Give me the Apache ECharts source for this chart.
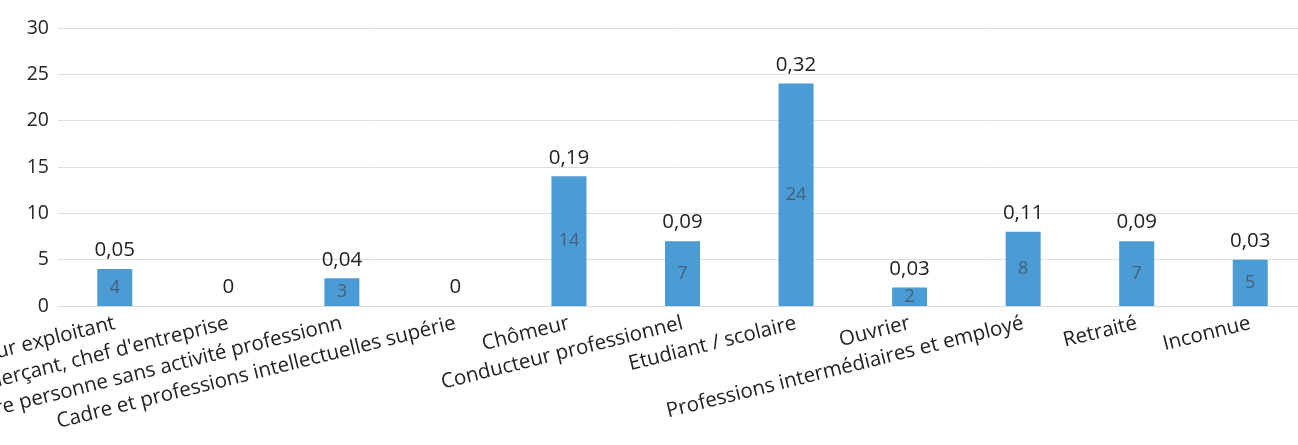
<!DOCTYPE html>
<html>
<head>
<meta charset="utf-8">
<script src="https://cdn.jsdelivr.net/npm/echarts@6/dist/echarts.min.js"></script>
<style>
html,body{margin:0;padding:0;background:#fff;}
#c{width:1298px;height:445px;}
</style>
</head>
<body>
<div id="c"></div>
<script>
const categories = [
  "Agriculteur exploitant",
  "Artisan, commerçant, chef d'entreprise",
  "Autre personne sans activité professionn",
  "Cadre et professions intellectuelles supérie",
  "Chômeur",
  "Conducteur professionnel",
  "Etudiant / scolaire",
  "Ouvrier",
  "Professions intermédiaires et employé",
  "Retraité",
  "Inconnue"
];
const counts = [4, 0, 3, 0, 14, 7, 24, 2, 8, 7, 5];
const shares = ["0,05", "0", "0,04", "0", "0,19", "0,09", "0,32", "0,03", "0,11", "0,09", "0,03"];
const yTicks = [0, 5, 10, 15, 20, 25, 30];

const FONT = "Open Sans";
const chart = echarts.init(document.getElementById('c'), null, {renderer: 'canvas'});
chart.setOption({
  animation: false,
  backgroundColor: '#ffffff',
  grid: {left: 58, top: 28, width: 1249, height: 278, containLabel: false, outerBoundsMode: 'none'},
  xAxis: {
    type: 'category',
    data: categories,
    axisLine: {show: true, lineStyle: {color: '#d9d9d9', width: 1}},
    axisTick: {show: false},
    axisLabel: {
      interval: 0, rotate: 14, margin: 17, hideOverlap: false,
      fontFamily: FONT, fontSize: 20.5, color: '#222222'
    }
  },
  yAxis: {
    type: 'value',
    min: yTicks[0], max: yTicks[yTicks.length - 1], interval: 5,
    axisLine: {show: false},
    axisTick: {show: false},
    splitLine: {lineStyle: {color: '#dedede', width: 1}},
    axisLabel: {fontFamily: FONT, fontSize: 19.5, color: '#262626', margin: 9}
  },
  series: [
    {
      type: 'bar',
      data: counts,
      barWidth: 35,
      itemStyle: {color: '#4b9bd5'},
      label: {
        show: true, position: 'inside',
        fontFamily: FONT, fontSize: 18, color: '#44617c',
        formatter: p => p.value > 0 ? String(p.value) : ''
      },
      z: 2
    },
    {
      type: 'bar',
      data: counts,
      barWidth: 35,
      barGap: '-100%',
      itemStyle: {color: 'rgba(0,0,0,0)'},
      label: {
        show: true, position: 'top', distance: 8,
        fontFamily: FONT, fontSize: 20.5, color: '#1f1f1f',
        formatter: p => shares[p.dataIndex]
      },
      silent: true,
      z: 3
    }
  ]
});
</script>
</body>
</html>
